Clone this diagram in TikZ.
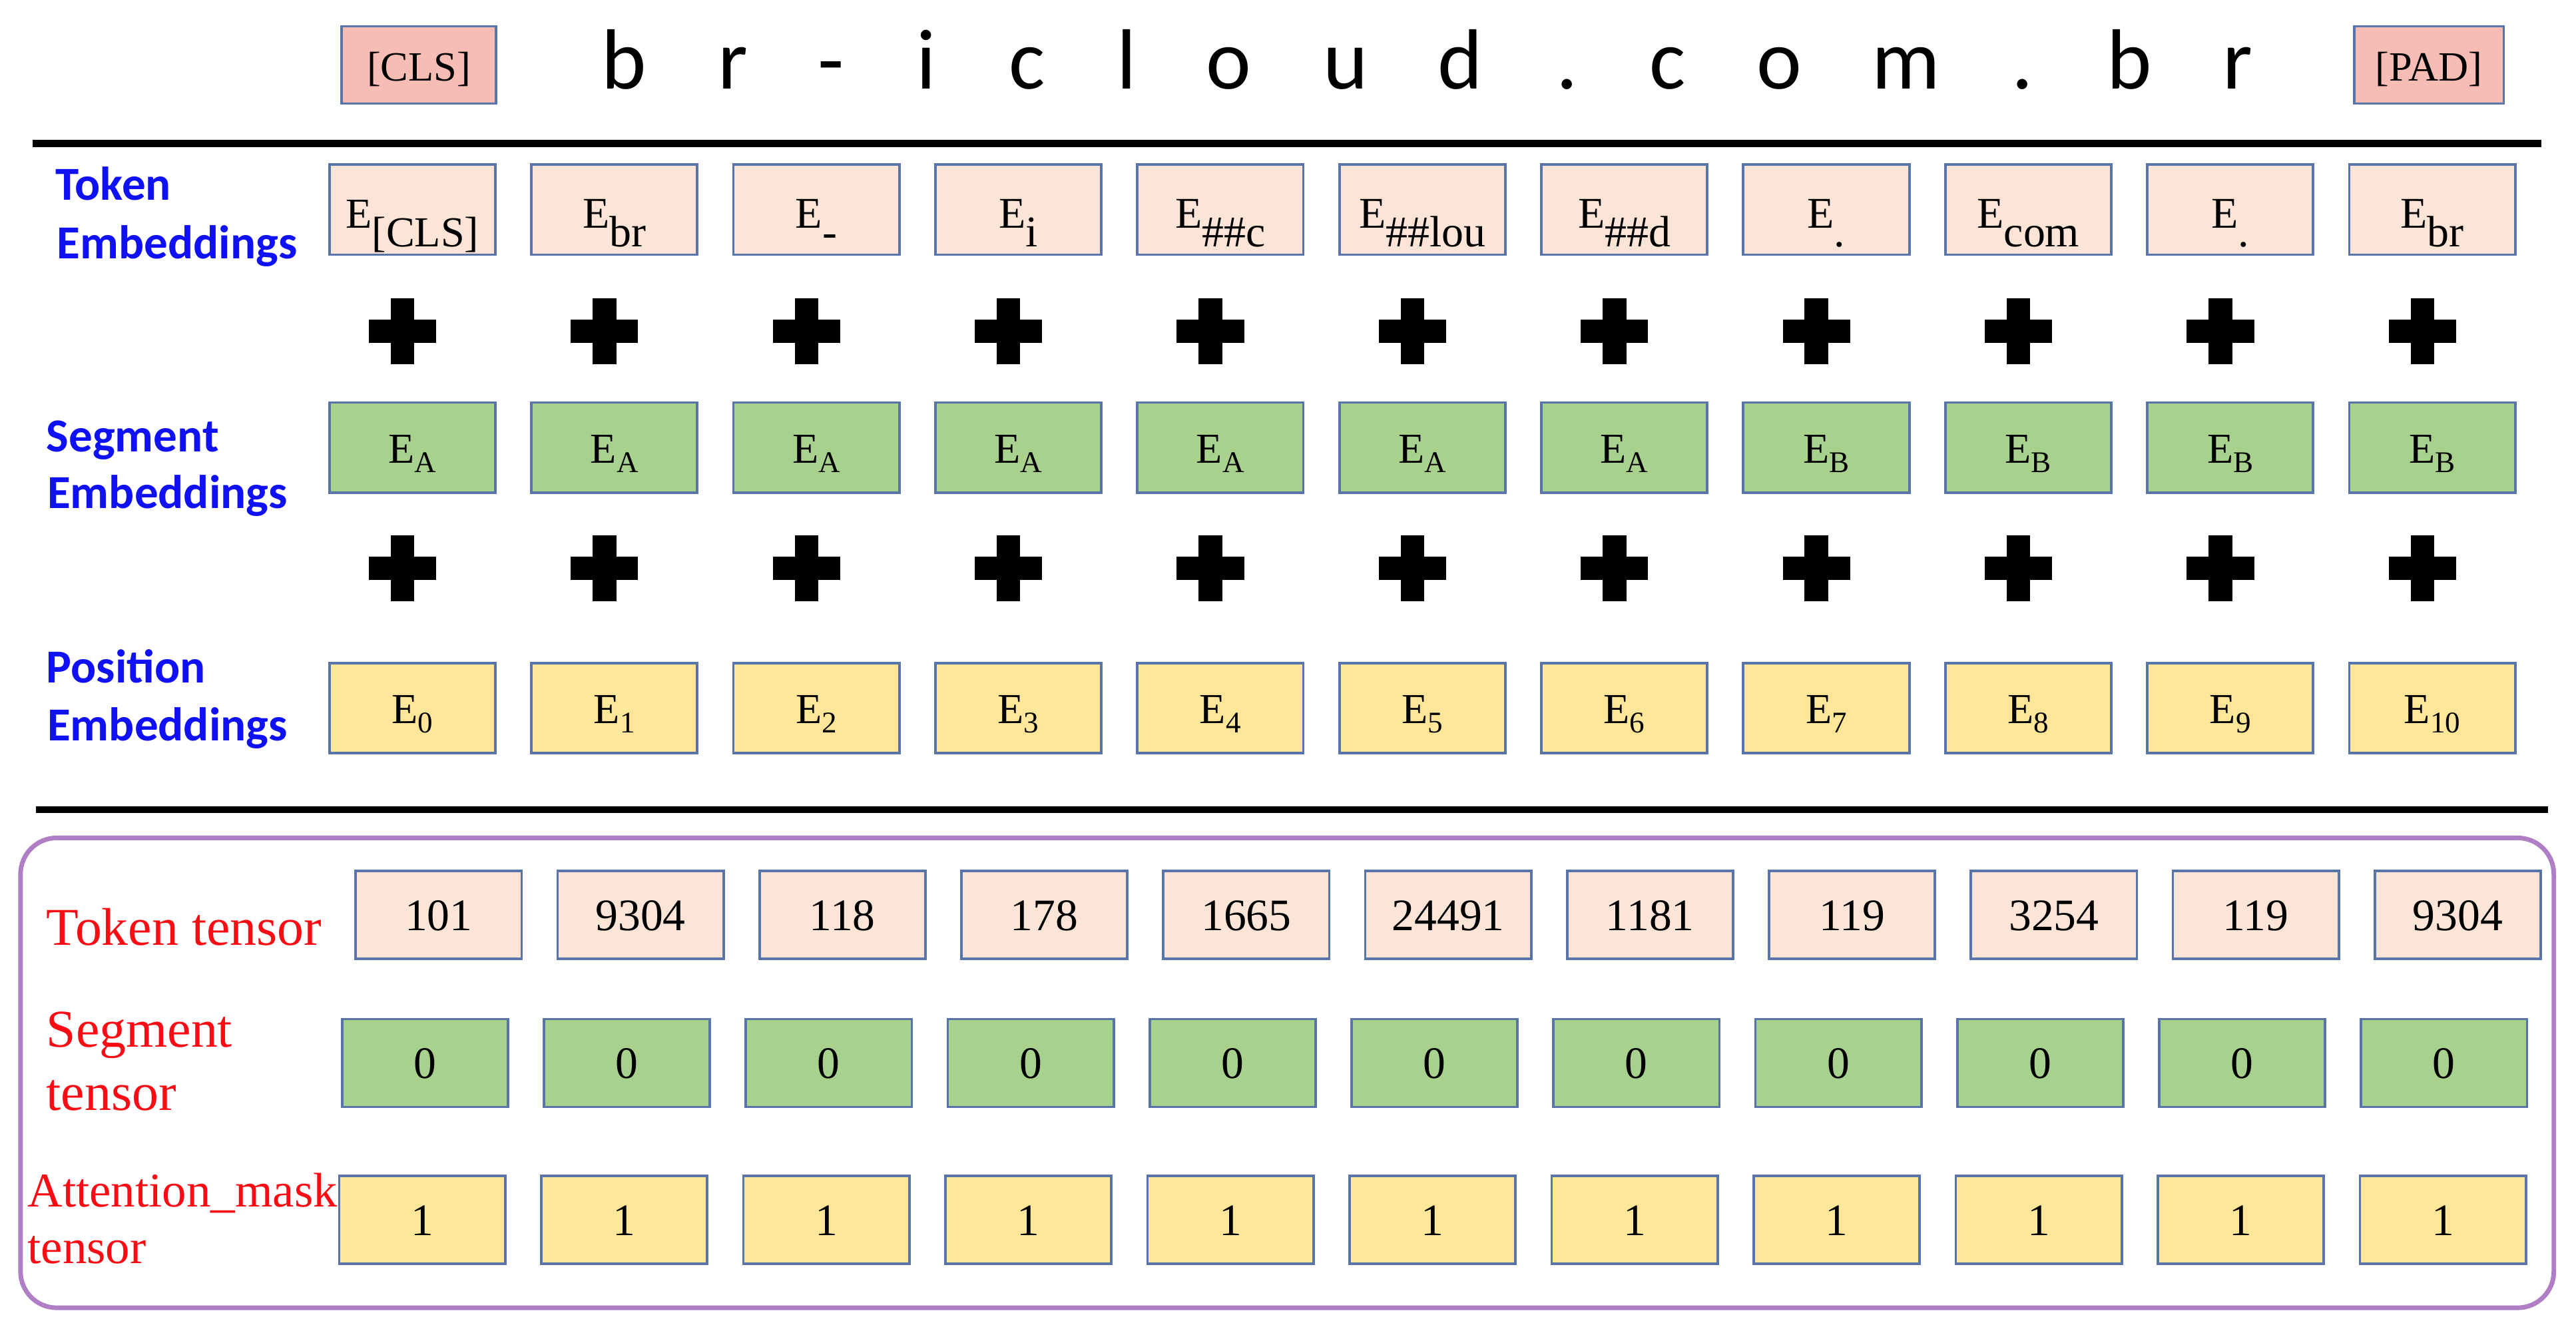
\documentclass[tikz,border=0pt]{standalone}
\usepackage{fontspec}
\setmainfont{Liberation Serif}
\newfontfamily\calibfont{Carlito}
\definecolor{tokfill}{RGB}{252,229,214}
\definecolor{segfill}{RGB}{169,209,142}
\definecolor{posfill}{RGB}{255,230,153}
\definecolor{clsfill}{RGB}{247,189,181}
\definecolor{boxline}{RGB}{88,116,168}
\definecolor{lblblue}{RGB}{16,16,245}
\definecolor{lblred}{RGB}{250,12,20}
\definecolor{framecol}{RGB}{176,126,196}
\newcommand{\lowsub}[1]{\raisebox{-7.8pt}{#1}}
\newcommand{\smallsub}[1]{\raisebox{-4pt}{\fontsize{13}{13}\selectfont #1}}
\tikzset{
  cellbox/.style={draw=boxline, line width=1.1pt, inner sep=0pt, minimum width=2.525cm},
  tokemb/.style={cellbox, fill=tokfill, text height=0.975cm, text depth=0.4cm, font=\fontsize{19}{19}\selectfont},
  segemb/.style={cellbox, fill=segfill, text height=0.925cm, text depth=0.45cm, font=\fontsize{18.5}{18.5}\selectfont},
  posemb/.style={cellbox, fill=posfill, text height=0.925cm, text depth=0.45cm, font=\fontsize{18.5}{18.5}\selectfont},
  tensorbox/.style={cellbox, text height=0.906cm, text depth=0.431cm, font=\fontsize{19.5}{19.5}\selectfont},
  specialbox/.style={draw=boxline, line width=1.1pt, inner sep=0pt, fill=clsfill, text height=0.835cm, text depth=0.34cm, font=\fontsize{18}{18}\selectfont},
  charlbl/.style={anchor=base, inner sep=0pt, font=\calibfont\fontsize{37}{37}\selectfont},
  bluelbl/.style={anchor=base west, inner sep=0pt, text=lblblue, font=\calibfont\bfseries\fontsize{20.5}{20.5}\selectfont},
  redlbl/.style={anchor=base west, inner sep=0pt, text=lblred, font=\fontsize{23}{23}\selectfont},
  redlblsmall/.style={anchor=base west, inner sep=0pt, text=lblred, font=\fontsize{21}{21}\selectfont},
  sepline/.style={line width=3pt, black},
  plussign/.pic={\fill[black] (-20.5,-7.1) rectangle (20.5,7.1); \fill[black] (-7.2,-20) rectangle (7.2,20);}
}
\newcommand{\tokcell}[3]{\node[tokemb] (te#1) at (#2,127.5) {#3};}
\begin{document}
\begin{tikzpicture}[x=0.025cm,y=-0.025cm]
\useasboundingbox (0,0) rectangle (1568,811);

% top input row
\node[specialbox, minimum width=2.35cm] (cls) at (255,39.5) {[CLS]};
\node[specialbox, minimum width=2.275cm] (pad) at (1478.5,39.5) {[PAD]};
\foreach \x/\c [count=\k] in {380/b,446/r,506/-,564/i,625/c,686/l,748/o,819/u,889/d,954/.,1015/c,1083/o,1160/m,1231/.,1296/b,1362/r}
  \node[charlbl] (ch\k) at (\x,54) {\c};

% separator lines
\coordinate (l1a) at (20,87.3);
\coordinate (l1b) at (1547,87.3);
\draw[sepline, line width=3.2pt] (l1a) -- (l1b);
\coordinate (l2a) at (22,492.8);
\coordinate (l2b) at (1551,492.8);
\draw[sepline, line width=2.8pt] (l2a) -- (l2b);

% left labels, upper part
\node[bluelbl] (tl1) at (33.6,121.6) {Token};
\node[bluelbl] (tl2) at (34.5,157.3) {Embeddings};
\node[bluelbl] (sl1) at (28,275) {Segment};
\node[bluelbl] (sl2) at (28.6,309.6) {Embeddings};
\node[bluelbl] (pl1) at (28,415.4) {Position};
\node[bluelbl] (pl2) at (28.6,450.7) {Embeddings};

% token embeddings
\node[tokemb, font=\fontsize{18.5}{18.5}\selectfont] (te1) at (251,127.5) {E\lowsub{[CLS]}};
\tokcell{2}{373.95}{E\lowsub{br}}
\tokcell{3}{496.9}{E\lowsub{-}}
\tokcell{4}{619.85}{E\lowsub{i}}
\tokcell{5}{742.8}{E\lowsub{\#\#c}}
\tokcell{6}{865.75}{E\lowsub{\#\#lou}}
\tokcell{7}{988.7}{E\lowsub{\#\#d}}
\tokcell{8}{1111.65}{E\lowsub{.}}
\tokcell{9}{1234.6}{E\lowsub{com}}
\tokcell{10}{1357.55}{E\lowsub{.}}
\tokcell{11}{1480.5}{E\lowsub{br}}

% segment and position embeddings, plus signs
\foreach \s [count=\i from 0] in {A,A,A,A,A,A,A,B,B,B,B} {
  \node[segemb] (se\i) at ({251+122.95*\i},272.5) {E\smallsub{\s}};
  \node[posemb] (pe\i) at ({251+122.95*\i},431) {E\smallsub{\i}};
  \pic at ({245+122.95*\i},201.7) {plussign};
  \pic at ({245+122.95*\i},346) {plussign};
}

% lower frame
\draw[framecol, line width=2pt, rounded corners=0.55cm] (12.5,510) rectangle (1554.5,796);

\node[redlbl] (ttl) at (28,575.3) {Token tensor};
\node[redlbl] (stl1) at (28,637.4) {Segment};
\node[redlbl] (stl2) at (28,675.6) {tensor};
\node[redlblsmall] (atl1) at (16.5,734.7) {Attention\_mask};
\node[redlblsmall] (atl2) at (16.5,768.8) {tensor};

\foreach \v [count=\i from 0] in {101,9304,118,178,1665,24491,1181,119,3254,119,9304}
  \node[tensorbox, fill=tokfill] (tt\i) at ({267+122.9*\i},557) {\v};
\foreach \i in {0,...,10} {
  \node[tensorbox, fill=segfill] (st\i) at ({258.7+122.9*\i},647) {0};
  \node[tensorbox, fill=posfill] (at\i) at ({257+123*\i},742.5) {1};
}
\end{tikzpicture}
\end{document}
